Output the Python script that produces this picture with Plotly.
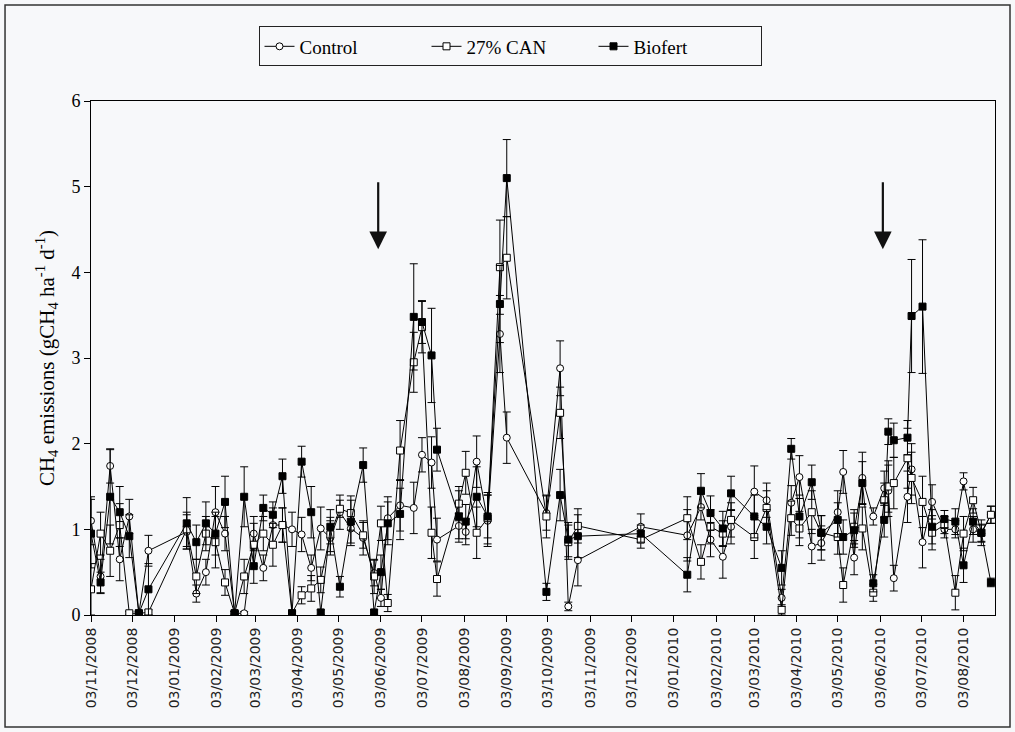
import plotly.graph_objects as go
import pandas as pd

# Sampling dates (shared by the three treatments)
dates = [
    "2008-11-03", "2008-11-10", "2008-11-17", "2008-11-24", "2008-12-01", "2008-12-08", "2008-12-15",
    "2009-01-12", "2009-01-19", "2009-01-26", "2009-02-02", "2009-02-09", "2009-02-16", "2009-02-23",
    "2009-03-02", "2009-03-09", "2009-03-16", "2009-03-23", "2009-03-30", "2009-04-06", "2009-04-13",
    "2009-04-20", "2009-04-27", "2009-05-04", "2009-05-12", "2009-05-21", "2009-05-29", "2009-06-03",
    "2009-06-08", "2009-06-17", "2009-06-27", "2009-07-03", "2009-07-10", "2009-07-14", "2009-07-30",
    "2009-08-04", "2009-08-12", "2009-08-20", "2009-08-29", "2009-09-03", "2009-10-02", "2009-10-12",
    "2009-10-18", "2009-10-25", "2009-12-10", "2010-01-13", "2010-01-23", "2010-01-30", "2010-02-08",
    "2010-02-14", "2010-03-03", "2010-03-12", "2010-03-23", "2010-03-30", "2010-04-05", "2010-04-14",
    "2010-04-21", "2010-05-03", "2010-05-07", "2010-05-15", "2010-05-21", "2010-05-29", "2010-06-06",
    "2010-06-09", "2010-06-13", "2010-06-23", "2010-06-26", "2010-07-04", "2010-07-11", "2010-07-20",
    "2010-07-28", "2010-08-03", "2010-08-10", "2010-08-16", "2010-08-23",
]

# CH4 emissions (g CH4 ha-1 d-1) and standard errors
control = [
    1.10, 0.45, 1.74, 0.65, 1.15, 0.02, 0.75,
    0.97, 0.25, 0.50, 1.20, 0.95, 0.02, 0.02,
    0.95, 0.55, 1.05, 1.05, 1.00, 0.94, 0.55,
    1.01, 0.90, 1.20, 1.01, 0.90, 0.49, 0.20,
    1.13, 1.28, 1.25, 1.87, 1.78, 0.88, 1.04,
    0.97, 1.79, 1.10, 3.28, 2.07, 1.19, 2.88,
    0.10, 0.64, 1.03, 0.93, 1.26, 0.88, 0.68,
    1.03, 1.44, 1.34, 0.20, 1.31, 1.61, 0.80,
    0.84, 1.20, 1.67, 0.67, 1.60, 1.15, 1.48,
    1.45, 0.43, 1.38, 1.70, 0.85, 1.32, 1.00,
    1.00, 1.56, 1.00, 0.95, 1.17,
]
control_err = [
    0.28, 0.20, 0.20, 0.25, 0.20, 0.02, 0.18,
    0.20, 0.10, 0.15, 0.30, 0.20, 0.02, 0.02,
    0.20, 0.15, 0.20, 0.20, 0.20, 0.20, 0.15,
    0.25, 0.20, 0.20, 0.20, 0.20, 0.15, 0.10,
    0.25, 0.30, 0.30, 0.20, 0.30, 0.25, 0.15,
    0.15, 0.30, 0.30, 0.45, 0.30, 0.20, 0.32,
    0.05, 0.30, 0.15, 0.30, 0.15, 0.20, 0.25,
    0.20, 0.30, 0.20, 0.10, 0.20, 0.25, 0.20,
    0.20, 0.25, 0.25, 0.20, 0.30, 0.10, 0.20,
    0.30, 0.15, 0.30, 0.30, 0.30, 0.20, 0.10,
    0.10, 0.10, 0.15, 0.10, 0.10,
]
can27 = [
    0.30, 0.95, 0.75, 1.05, 0.02, 0.02, 0.03,
    1.00, 0.45, 0.95, 0.85, 0.38, 0.02, 0.45,
    0.82, 0.95, 0.82, 1.05, 0.02, 0.23, 0.31,
    0.41, 0.94, 1.24, 1.19, 0.93, 0.45, 1.07,
    0.14, 1.92, 2.95, 3.36, 0.96, 0.42, 1.30,
    1.66, 0.96, 1.13, 4.06, 4.17, 1.15, 2.36,
    0.85, 1.04, 0.88, 1.13, 0.62, 1.03, 0.95,
    1.11, 0.91, 1.25, 0.06, 1.13, 1.01, 1.20,
    0.96, 0.91, 0.35, 1.03, 1.01, 0.26, 1.34,
    1.50, 1.54, 1.83, 1.60, 1.32, 0.96, 1.05,
    0.26, 0.95, 1.34, 0.96, 1.17,
]
can27_err = [
    0.30, 0.25, 0.30, 0.25, 0.02, 0.02, 0.03,
    0.20, 0.20, 0.20, 0.30, 0.15, 0.02, 0.20,
    0.25, 0.20, 0.25, 0.20, 0.02, 0.10, 0.15,
    0.15, 0.20, 0.10, 0.20, 0.15, 0.20, 0.20,
    0.10, 0.35, 0.35, 0.30, 0.30, 0.20, 0.20,
    0.25, 0.30, 0.30, 0.55, 0.48, 0.25, 0.30,
    0.20, 0.20, 0.10, 0.25, 0.20, 0.20, 0.15,
    0.20, 0.25, 0.20, 0.06, 0.20, 0.20, 0.25,
    0.20, 0.20, 0.20, 0.20, 0.25, 0.10, 0.20,
    0.30, 0.30, 0.35, 0.30, 0.30, 0.20, 0.10,
    0.20, 0.20, 0.15, 0.15, 0.10,
]
biofert = [
    0.95, 0.38, 1.38, 1.20, 0.92, 0.02, 0.30,
    1.07, 0.85, 1.07, 0.95, 1.32, 0.02, 1.38,
    0.57, 1.25, 1.17, 1.62, 0.02, 1.79, 1.20,
    0.03, 1.03, 0.33, 1.09, 1.75, 0.03, 0.50,
    1.07, 1.18, 3.48, 3.42, 3.03, 1.93, 1.15,
    1.09, 1.38, 1.15, 3.63, 5.10, 0.27, 1.40,
    0.88, 0.92, 0.95, 0.47, 1.45, 1.19, 1.01,
    1.42, 1.15, 1.03, 0.55, 1.94, 1.15, 1.55,
    0.96, 1.11, 0.91, 0.99, 1.54, 0.37, 1.11,
    2.14, 2.04, 2.07, 3.49, 3.60, 1.03, 1.12,
    1.09, 0.58, 1.09, 0.96, 0.38,
]
biofert_err = [
    0.40, 0.12, 0.55, 0.30, 0.25, 0.02, 0.30,
    0.30, 0.20, 0.25, 0.25, 0.30, 0.02, 0.35,
    0.20, 0.15, 0.15, 0.20, 0.02, 0.18, 0.30,
    0.03, 0.20, 0.12, 0.25, 0.20, 0.03, 0.20,
    0.25, 0.30, 0.62, 0.25, 0.55, 0.25, 0.30,
    0.20, 0.35, 0.25, 0.45, 0.45, 0.10, 0.30,
    0.20, 0.25, 0.10, 0.20, 0.20, 0.20, 0.20,
    0.20, 0.25, 0.20, 0.20, 0.12, 0.25, 0.20,
    0.20, 0.20, 0.20, 0.20, 0.25, 0.10, 0.20,
    0.15, 0.20, 0.20, 0.66, 0.78, 0.20, 0.10,
    0.15, 0.20, 0.15, 0.10, 0.05,
]

# Monthly tick positions (3rd of each month) on the time axis
tick_dates = pd.date_range("2008-11-01", "2010-08-01", freq="MS") + pd.Timedelta(days=2)

# Fertiliser application dates (arrows)
application_dates = ["2009-06-01", "2010-06-05"]

x = pd.to_datetime(dates)

series = [
    ("Control", control, control_err, dict(symbol="circle", color="white", size=7, line=dict(color="black", width=1))),
    ("27% CAN", can27, can27_err, dict(symbol="square", color="white", size=7, line=dict(color="black", width=1))),
    ("Biofert", biofert, biofert_err, dict(symbol="square", color="black", size=7, line=dict(color="black", width=1))),
]

fig = go.Figure()
for name, vals, errs, marker in series:
    fig.add_trace(go.Scatter(
        x=x, y=vals, name=name, mode="lines+markers",
        line=dict(color="black", width=1),
        marker=marker,
        error_y=dict(type="data", array=errs, visible=True, color="black", thickness=1, width=4),
    ))

for d in application_dates:
    fig.add_annotation(
        x=d, y=4.27, ax=d, ay=5.07, xref="x", yref="y", axref="x", ayref="y",
        showarrow=True, arrowhead=2, arrowsize=1.6, arrowwidth=2.2, arrowcolor="#111111", text="",
    )

serif = "Liberation Serif, Times New Roman, serif"

# Outer frame around the whole graphic
fig.add_shape(type="rect", xref="paper", yref="paper",
              x0=-0.0951, x1=1.0166, y0=-0.2179, y1=1.1868,
              line=dict(color="#333333", width=1.5), fillcolor="rgba(0,0,0,0)", layer="below")

fig.update_layout(
    width=1015, height=732,
    margin=dict(l=91, r=20, t=101, b=117),
    paper_bgcolor="#f7f8fa", plot_bgcolor="#f7f8fa",
    font=dict(family=serif, color="black", size=16),
    showlegend=True,
    legend=dict(
        orientation="h", x=0.4635, xanchor="center", y=1.145, yanchor="top",
        bordercolor="#222222", borderwidth=1, bgcolor="#f7f8fa",
        font=dict(family=serif, size=19), entrywidth=122, entrywidthmode="pixels",
    ),
    xaxis=dict(
        range=["2008-11-03", "2010-08-26"],
        tickvals=tick_dates, tickformat="%d/%m/%Y", tickangle=-90,
        tickfont=dict(family="DejaVu Sans", size=14, color="#222222"),
        ticks="outside", ticklen=6, tickcolor="black",
        showline=True, linecolor="black", linewidth=1, mirror=True,
        showgrid=False, zeroline=False,
    ),
    yaxis=dict(
        range=[0, 6], tickvals=[0, 1, 2, 3, 4, 5, 6],
        ticks="outside", ticklen=6, tickcolor="black",
        tickfont=dict(family=serif, size=18),
        showline=True, linecolor="black", linewidth=1, mirror=True,
        showgrid=False, zeroline=False,
        title=dict(text="CH<sub>4</sub> emissions (gCH<sub>4</sub> ha<sup>-1</sup> d<sup>-1</sup>)",
                   font=dict(family=serif, size=21), standoff=11),
    ),
)

fig.write_html("out.html")
